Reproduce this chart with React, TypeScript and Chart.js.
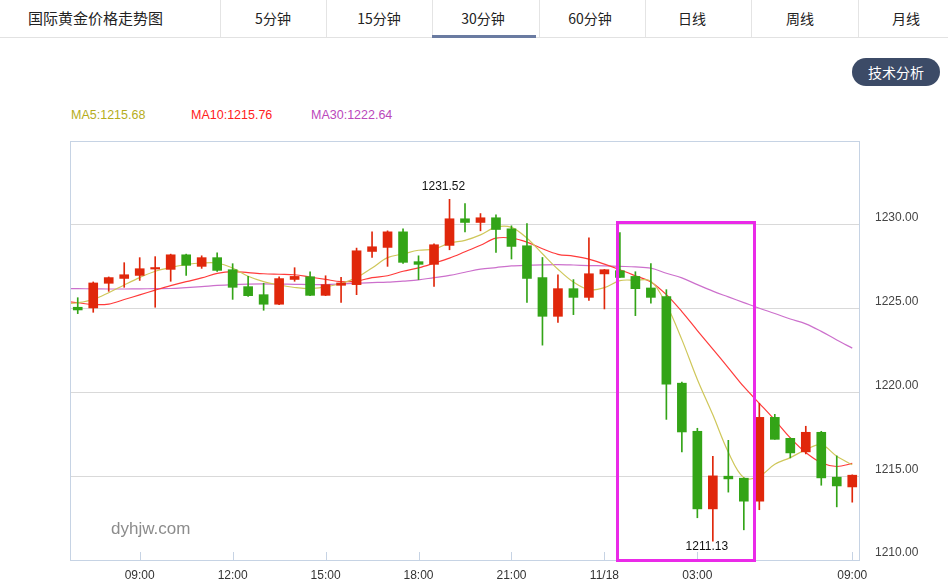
import React, { useEffect, useRef } from 'react';
import { Chart, registerables } from 'chart.js';

Chart.register(...registerables);

// ---- categories (30-minute candles) ----
const categories = [
  '07:00','07:30','08:00','08:30','09:00','09:30','10:00','10:30','11:00','11:30',
  '12:00','12:30','13:00','13:30','14:00','14:30','15:00','15:30','16:00','16:30',
  '17:00','17:30','18:00','18:30','19:00','19:30','20:00','20:30','21:00','21:30',
  '22:00','22:30','23:00','23:30','11/18','00:30','01:00','01:30','02:00','02:30',
  '03:00','03:30','04:00','04:30','06:00','06:30','07:00','07:30','08:00','08:30','09:00',
];
const shownTickLabels = ['09:00', '12:00', '15:00', '18:00', '21:00', '11/18', '03:00'];

// ---- OHLC ----
const opens = [
  1225.08,1225.04,1226.51,1226.80,1226.98,1227.36,1227.34,1228.21,1227.52,1228.04,
  1227.32,1226.31,1225.83,1225.26,1226.74,1226.90,1225.79,1226.39,1226.43,1228.41,
  1228.65,1229.58,1227.80,1227.64,1228.77,1230.36,1230.14,1230.42,1229.76,1228.75,
  1226.85,1224.54,1226.19,1225.67,1227.07,1227.26,1226.92,1226.23,1225.71,1220.55,
  1217.68,1213.05,1215.00,1214.88,1213.51,1218.51,1217.26,1216.45,1217.62,1214.94,1214.36,
];
const closes = [
  1224.92,1226.53,1226.85,1227.02,1227.38,1227.40,1228.21,1227.58,1228.04,1227.28,
  1226.27,1225.77,1225.26,1226.79,1226.92,1225.79,1226.43,1226.53,1228.45,1228.69,
  1229.58,1227.76,1227.64,1228.81,1230.36,1230.14,1230.42,1229.72,1228.71,1226.80,
  1224.54,1226.19,1225.67,1227.08,1227.32,1226.86,1226.19,1225.67,1220.49,1217.64,
  1213.05,1215.02,1214.84,1213.51,1218.51,1217.20,1216.39,1217.62,1214.90,1214.42,1215.06,
];
const highs = [
  1225.65,1226.59,1226.89,1227.74,1228.04,1228.10,1228.25,1228.25,1228.15,1228.33,
  1227.68,1226.92,1226.51,1226.89,1227.44,1227.20,1226.96,1226.86,1228.61,1229.58,
  1229.64,1229.76,1228.15,1228.87,1231.52,1231.27,1230.67,1230.60,1229.94,1230.08,
  1228.05,1227.02,1226.73,1229.23,1227.34,1229.54,1227.20,1227.68,1226.13,1220.61,
  1217.86,1216.19,1217.14,1214.90,1219.35,1218.69,1217.28,1217.98,1217.68,1216.21,1215.08,
];
const lows = [
  1224.70,1224.78,1226.03,1226.27,1226.68,1225.08,1226.63,1226.98,1227.40,1227.22,
  1225.55,1225.73,1224.90,1225.24,1226.63,1225.77,1225.77,1225.37,1225.83,1228.05,
  1227.52,1227.70,1226.73,1226.33,1228.51,1229.58,1229.64,1228.35,1227.96,1225.37,
  1222.82,1224.18,1224.64,1225.49,1224.98,1226.86,1224.58,1225.32,1218.39,1216.45,
  1212.52,1211.13,1214.05,1211.80,1213.00,1217.20,1216.09,1216.33,1214.46,1213.17,1213.45,
];

// ---- moving averages (first value belongs to the candle before the visible window) ----
const maFirstIndex = -1;
const ma5 = [
  1225.27,
  1225.35,1225.54,1225.95,1226.41,1226.85,1227.23,1227.46,1227.63,1227.72,1227.72,
  1227.42,1226.93,1226.61,1226.41,1226.26,1226.19,1226.31,1226.50,1226.85,1227.42,
  1228.04,1228.26,1228.48,1228.55,1228.91,1229.07,1229.40,1229.86,1229.85,1229.20,
  1228.27,1227.35,1226.58,1226.13,1226.25,1226.67,1226.69,1226.64,1225.24,1223.15,
  1220.77,1218.66,1216.43,1214.91,1215.00,1215.71,1216.11,1216.58,1216.88,1216.19,1215.68,
];
const ma10 = [
  1225.45,
  1225.35,1225.24,1225.27,1225.54,1225.82,1226.10,1226.37,1226.61,1226.83,1227.10,
  1227.21,1227.15,1227.08,1227.05,1227.02,1226.88,1226.74,1226.61,1226.64,1226.85,
  1226.96,1227.23,1227.43,1227.71,1228.01,1228.39,1228.78,1229.20,1229.21,1228.97,
  1228.57,1228.24,1228.13,1227.95,1227.65,1227.32,1226.96,1226.59,1225.83,1224.82,
  1223.69,1222.58,1221.47,1220.34,1219.35,1218.35,1217.29,1216.41,1215.80,1215.58,1215.76,
];
const ma30 = [
  1226.19,
  1226.19,1226.18,1226.17,1226.17,1226.18,1226.19,1226.20,1226.25,1226.31,1226.38,
  1226.43,1226.46,1226.47,1226.46,1226.45,1226.43,1226.43,1226.47,1226.52,1226.55,
  1226.58,1226.64,1226.71,1226.85,1226.98,1227.17,1227.35,1227.45,1227.55,1227.59,
  1227.61,1227.62,1227.60,1227.57,1227.55,1227.52,1227.49,1227.41,1227.11,1226.83,
  1226.43,1226.04,1225.70,1225.36,1225.02,1224.71,1224.38,1224.09,1223.64,1223.13,1222.64,
];

const yMin = 1210;
const yMax = 1235;
const yStep = 5;

const tabs = ['5分钟', '15分钟', '30分钟', '60分钟', '日线', '周线', '月线'];
const tabCenters = [273, 379, 483, 590, 692, 800, 906];
const tabSeparators = [220, 326, 432, 539, 645, 751, 858];
const activeTab = 2;

const UP = '#e0270b';
const DOWN = '#33a417';
const MA5_LINE = '#cfc75a';
const MA10_LINE = '#ff3b3b';
const MA30_LINE = '#cc70cc';
const FRAME = '#c6d3e4';

export default function App() {
  const canvasRef = useRef<HTMLCanvasElement | null>(null);

  useEffect(() => {
    const canvas = canvasRef.current;
    if (!canvas) return;
    const barColors = opens.map((o, i) => (closes[i] >= o ? UP : DOWN));
    const maPoints = (arr: number[]) => arr.map((v, k) => ({ x: k + maFirstIndex, y: v }));

    const overlayPlugin = {
      id: 'overlay',
      afterDraw(chart: any) {
        const { ctx, chartArea } = chart;
        const xs = chart.scales.x;
        const ys = chart.scales.y;
        ctx.save();
        // frame
        ctx.strokeStyle = FRAME;
        ctx.lineWidth = 1;
        ctx.strokeRect(
          Math.round(chartArea.left) + 0.5,
          Math.round(chartArea.top) + 0.5,
          Math.round(chartArea.right - chartArea.left) - 1,
          Math.round(chartArea.bottom - chartArea.top)
        );
        // inner tick marks
        categories.forEach((c, i) => {
          if (!shownTickLabels.includes(c)) return;
          const x = Math.round(xs.getPixelForValue(i)) + 0.5;
          ctx.beginPath();
          ctx.moveTo(x, chartArea.bottom - 8);
          ctx.lineTo(x, chartArea.bottom);
          ctx.stroke();
        });
        // extreme labels
        let hi = 0;
        let lo = 0;
        highs.forEach((h, i) => { if (h > highs[hi]) hi = i; });
        lows.forEach((l, i) => { if (l < lows[lo]) lo = i; });
        ctx.fillStyle = '#111';
        ctx.font = "12px 'Liberation Sans', Arial, sans-serif";
        ctx.textAlign = 'center';
        ctx.textBaseline = 'bottom';
        ctx.fillText(highs[hi].toFixed(2), xs.getPixelForValue(hi) - 6, ys.getPixelForValue(highs[hi]) - 7);
        ctx.textBaseline = 'top';
        ctx.fillText(lows[lo].toFixed(2), xs.getPixelForValue(lo) - 6, ys.getPixelForValue(lows[lo]) + 0);
        ctx.restore();
      },
    };

    const chart = new Chart(canvas, {
      data: {
        labels: categories,
        datasets: [
          {
            type: 'bar',
            data: opens.map((o, i) => [o, closes[i]]),
            backgroundColor: barColors,
            barThickness: 9,
            minBarLength: 1.5,
            grouped: false,
            order: 0,
            xAxisID: 'x',
            yAxisID: 'y',
          } as any,
          {
            type: 'bar',
            data: lows.map((l, i) => [l, highs[i]]),
            backgroundColor: barColors,
            barThickness: 1,
            grouped: false,
            order: 1,
            xAxisID: 'x',
            yAxisID: 'y',
          } as any,
          {
            type: 'line',
            data: maPoints(ma5),
            borderColor: MA5_LINE,
            borderWidth: 1.2,
            pointRadius: 0,
            tension: 0.35,
            order: 2,
            clip: 0,
            xAxisID: 'x2',
            yAxisID: 'y',
          } as any,
          {
            type: 'line',
            data: maPoints(ma10),
            borderColor: MA10_LINE,
            borderWidth: 1.2,
            pointRadius: 0,
            tension: 0.35,
            order: 3,
            clip: 0,
            xAxisID: 'x2',
            yAxisID: 'y',
          } as any,
          {
            type: 'line',
            data: maPoints(ma30),
            borderColor: MA30_LINE,
            borderWidth: 1.2,
            pointRadius: 0,
            tension: 0.35,
            order: 4,
            clip: 0,
            xAxisID: 'x2',
            yAxisID: 'y',
          } as any,
        ],
      },
      options: {
        animation: false,
        responsive: false,
        devicePixelRatio: 1,
        events: [],
        layout: { padding: { left: 70, top: 11, right: 0, bottom: 0 } },
        plugins: {
          legend: { display: false },
          tooltip: { enabled: false },
          title: { display: false },
        },
        scales: {
          x: {
            type: 'category',
            position: 'bottom',
            offset: true,
            grid: { display: false, drawTicks: false },
            border: { display: false },
            ticks: {
              autoSkip: false,
              maxRotation: 0,
              padding: 8,
              color: '#333',
              font: { size: 12, family: "'Liberation Sans', Arial, sans-serif" },
              callback: (v: any, i: number) => (shownTickLabels.includes(categories[i]) ? categories[i] : ''),
            },
            afterFit: (s: any) => { s.height = 27; s.paddingLeft = 0; s.paddingRight = 0; },
          },
          x2: {
            type: 'linear',
            axis: 'x',
            position: 'bottom',
            display: false,
            min: -0.5,
            max: categories.length - 0.5,
          },
          y: {
            type: 'linear',
            position: 'right',
            min: yMin,
            max: yMax,
            grid: { color: '#d9d9d9', drawTicks: false },
            border: { display: false },
            ticks: {
              stepSize: yStep,
              padding: 15,
              labelOffset: -7,
              color: '#444',
              font: { size: 12, family: "'Liberation Sans', Arial, sans-serif" },
              callback: (v: any) => (Number(v) >= yMax ? '' : Number(v).toFixed(2)),
            },
            afterFit: (s: any) => { s.width = 88; s.paddingTop = 0; s.paddingBottom = 0; },
          },
        },
      } as any,
      plugins: [overlayPlugin],
    });
    return () => chart.destroy();
  }, []);

  const font = "'Noto Sans CJK SC', 'Noto Sans', sans-serif";
  const legendFont = "'Liberation Sans', Arial, sans-serif";

  return (
    <div style={{ position: 'fixed', left: 0, top: 0, width: 948, height: 587, background: '#fff', overflow: 'hidden' }}>
      {/* header */}
      <div style={{ position: 'absolute', left: 0, top: 0, width: 948, height: 37, borderBottom: '1px solid #e2e2e2' }} />
      <div style={{ position: 'absolute', left: 28, top: 7, fontFamily: font, fontSize: 15, color: '#222', lineHeight: '22px', whiteSpace: 'nowrap' }}>
        国际黄金价格走势图
      </div>
      {tabSeparators.map((x, i) => (
        <div key={'s' + i} style={{ position: 'absolute', left: x, top: 0, width: 1, height: 37, background: '#e4e4e4' }} />
      ))}
      {tabs.map((t, i) => (
        <div key={t} style={{ position: 'absolute', left: tabCenters[i] - 50, width: 100, top: 8, textAlign: 'center', fontFamily: font, fontSize: 14, color: '#222', lineHeight: '20px' }}>
          {t}
        </div>
      ))}
      <div style={{ position: 'absolute', left: tabSeparators[activeTab], top: 35, width: tabSeparators[activeTab + 1] - tabSeparators[activeTab] - 3, height: 3, background: '#6a7ba1' }} />

      {/* button */}
      <div style={{ position: 'absolute', left: 852, top: 58, width: 88, height: 28, borderRadius: 14, background: '#3c4b67', color: '#fff', fontFamily: font, fontSize: 14, lineHeight: '28px', textAlign: 'center' }}>
        技术分析
      </div>

      {/* MA legend */}
      <div style={{ position: 'absolute', left: 71, top: 108, fontFamily: legendFont, fontSize: 12.5, color: '#b5ad1c', whiteSpace: 'nowrap' }}>
        {'MA5:' + ma5[ma5.length - 1].toFixed(2)}
      </div>
      <div style={{ position: 'absolute', left: 191, top: 108, fontFamily: legendFont, fontSize: 12.5, color: '#ff2020', whiteSpace: 'nowrap' }}>
        {'MA10:' + ma10[ma10.length - 1].toFixed(2)}
      </div>
      <div style={{ position: 'absolute', left: 311, top: 108, fontFamily: legendFont, fontSize: 12.5, color: '#bb47bb', whiteSpace: 'nowrap' }}>
        {'MA30:' + ma30[ma30.length - 1].toFixed(2)}
      </div>

      {/* chart */}
      <canvas ref={canvasRef} width={948} height={457} style={{ position: 'absolute', left: 0, top: 130, width: 948, height: 457, display: 'block' }} />

      {/* watermark */}
      <div style={{ position: 'absolute', left: 111, top: 519, fontFamily: legendFont, fontSize: 17, color: '#8c8c8c', whiteSpace: 'nowrap' }}>
        dyhjw.com
      </div>

      {/* highlight box */}
      <div style={{ position: 'absolute', left: 616, top: 221, width: 134, height: 335, border: '3px solid #ea2ae8', boxSizing: 'content-box' }} />
    </div>
  );
}
